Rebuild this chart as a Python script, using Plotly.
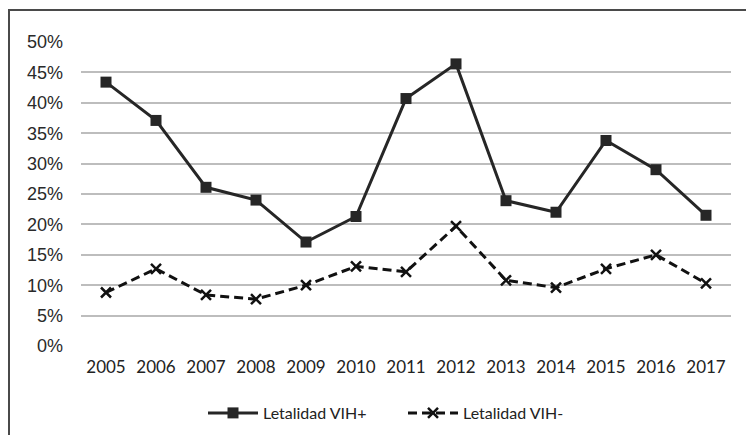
import plotly.graph_objects as go

years = ["2005", "2006", "2007", "2008", "2009", "2010", "2011", "2012",
         "2013", "2014", "2015", "2016", "2017"]
vih_pos = [0.434, 0.371, 0.261, 0.240, 0.171, 0.213, 0.407, 0.464,
           0.239, 0.220, 0.338, 0.290, 0.215]
vih_neg = [0.088, 0.127, 0.084, 0.077, 0.100, 0.131, 0.122, 0.197,
           0.108, 0.096, 0.127, 0.150, 0.103]
names = ["Letalidad VIH+", "Letalidad VIH-"]
y_ticks = [0, 0.05, 0.10, 0.15, 0.20, 0.25, 0.30, 0.35, 0.40, 0.45, 0.50]

# page has an 8px body margin; work in page coordinates and convert
OFF = 8
W, H = 754, 435
L, R, T, B = 81 - OFF, W - (731 - OFF), 42 - OFF, H - (346 - OFF)
pw, ph = W - L - R, H - T - B

def px(x):
    return (x - OFF - L) / pw

def py(y):
    return (H - B - (y - OFF)) / ph

line_col = "#262626"

fig = go.Figure()
fig.add_trace(go.Scatter(
    x=years, y=vih_pos, name=names[0], mode="lines+markers",
    line=dict(color=line_col, width=3),
    marker=dict(symbol="square", size=11, color=line_col),
))
fig.add_trace(go.Scatter(
    x=years, y=vih_neg, name=names[1], mode="lines+markers",
    line=dict(color="#111111", width=3, dash="9px,5px"),
    marker=dict(symbol="x-thin", size=10, line=dict(color="#111111", width=2.5)),
))

frame_col = "#4a4a4a"
fig.add_shape(type="line", xref="paper", yref="paper",
              x0=px(8), x1=px(770), y0=py(10), y1=py(10),
              line=dict(color=frame_col, width=2))
fig.add_shape(type="line", xref="paper", yref="paper",
              x0=px(9), x1=px(9), y0=py(10), y1=py(450),
              line=dict(color=frame_col, width=2))

fig.update_layout(
    width=W, height=H,
    margin=dict(l=L, r=R, t=T, b=B, autoexpand=False),
    paper_bgcolor="white", plot_bgcolor="white",
    showlegend=True,
    legend=dict(orientation="h", x=px(203), xanchor="left",
                y=py(413), yanchor="middle",
                font=dict(family="Lato", size=16, color="#222"),
                itemwidth=50, entrywidth=135, traceorder="normal"),
    xaxis=dict(type="category", range=[-0.5, 12.5], showgrid=False,
               showline=False, zeroline=False, ticks="", automargin=False,
               tickfont=dict(family="Lato", size=17, color="#222"),
               ticklabelstandoff=9),
    yaxis=dict(range=[0, 0.5], tickvals=y_ticks, tickformat=".0%",
               showgrid=True, gridcolor="#bdbdbd", gridwidth=1.5,
               zeroline=False, showline=False, ticks="", automargin=False,
               tickfont=dict(family="Liberation Sans, Arial, sans-serif",
                             size=18, color="#2a2a2a"),
               ticklabelstandoff=17),
)
fig.write_html("out.html")
